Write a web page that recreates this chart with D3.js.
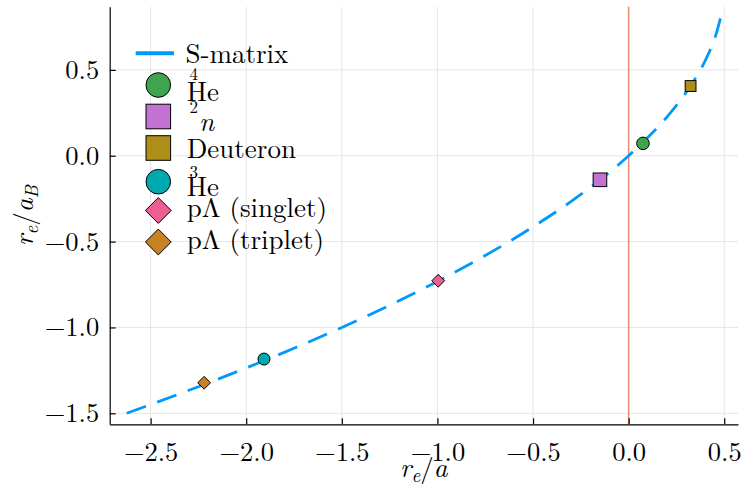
<!DOCTYPE html>
<html>
<head>
<meta charset="utf-8">
<script src="https://d3js.org/d3.v7.min.js"></script>
<style>
  body { margin: 0; background: #fff; }
  svg { display: block; }
</style>
</head>
<body>
<svg id="chart" width="744" height="489"></svg>
<script>
// S-matrix curve
var curveX = [-2.625, -2.5, -2.25, -2.0, -1.75, -1.5, -1.25, -1.0, -0.75, -0.5, -0.25, 0, 0.1, 0.2, 0.3, 0.35, 0.4, 0.44, 0.46, 0.48];
var curveY = [-1.5, -1.449, -1.345, -1.236, -1.121, -1.0, -0.871, -0.732, -0.581, -0.414, -0.225, 0, 0.106, 0.225, 0.368, 0.452, 0.553, 0.654, 0.717, 0.8];

// measured systems
var names   = ["4He", "2n", "Deuteron", "3He", "pL singlet", "pL triplet"];
var pointsX = [0.075, -0.150, 0.324, -1.907, -0.996, -2.220];
var pointsY = [0.072, -0.140, 0.406, -1.184, -0.728, -1.322];
var shapes  = ["circle", "square", "square", "circle", "diamond", "diamond"];
var colors  = ["#3EA44E", "#C371D2", "#AC8E18", "#00A9AD", "#ED5E93", "#C68225"];
var sizes   = [6.3, 6.8, 5.4, 6.0, 6.4, 6.4];

var xTicks = [-2.5, -2.0, -1.5, -1.0, -0.5, 0.0, 0.5];
var yTicks = [-1.5, -1.0, -0.5, 0.0, 0.5];

var FONT = "Latin Modern Roman";
var svg = d3.select("#chart");

var x = d3.scaleLinear().domain([-2.714, 0.572]).range([109.7, 738]);
var y = d3.scaleLinear().domain([-1.564, 0.868]).range([424.3, 6.7]);
var fmt = d3.format(".1f");

// grid
svg.append("g").selectAll("line").data(xTicks).join("line")
  .attr("x1", d => x(d)).attr("x2", d => x(d))
  .attr("y1", y.range()[1]).attr("y2", y.range()[0])
  .attr("stroke", "#e6e6e6").attr("stroke-width", 1);
svg.append("g").selectAll("line").data(yTicks).join("line")
  .attr("y1", d => y(d)).attr("y2", d => y(d))
  .attr("x1", x.range()[0]).attr("x2", x.range()[1])
  .attr("stroke", "#e6e6e6").attr("stroke-width", 1);

// vertical line at zero
svg.append("line")
  .attr("x1", x(0)).attr("x2", x(0))
  .attr("y1", y.range()[1]).attr("y2", y.range()[0])
  .attr("stroke", "#E36F47").attr("stroke-width", 1.5).attr("opacity", 0.75);

// axes
var xAxis = svg.append("g")
  .attr("transform", `translate(0,${y.range()[0]})`)
  .call(d3.axisBottom(x).tickValues(xTicks).tickFormat(fmt)
        .tickSizeInner(-6).tickSizeOuter(0).tickPadding(18));
var yAxis = svg.append("g")
  .attr("transform", `translate(${x.range()[0]},0)`)
  .call(d3.axisLeft(y).tickValues(yTicks).tickFormat(fmt)
        .tickSizeInner(-6).tickSizeOuter(0).tickPadding(10.5));
[xAxis, yAxis].forEach(function (g) {
  g.attr("font-family", FONT).attr("font-size", 26.5);
  g.selectAll("text").attr("font-family", FONT);
  g.select(".domain").attr("stroke", "#000").attr("stroke-width", 1.2);
  g.selectAll(".tick line").attr("stroke", "#000").attr("stroke-width", 1.2);
});
yAxis.selectAll(".tick text").attr("dy", "0.32em");

// curve
var line = d3.line()
  .x((d, i) => x(curveX[i]))
  .y((d, i) => y(curveY[i]))
  .curve(d3.curveMonotoneX);
svg.append("path")
  .datum(curveX)
  .attr("d", line)
  .attr("fill", "none")
  .attr("stroke", "#009AFA")
  .attr("stroke-width", 2.8)
  .attr("stroke-dasharray", "20.5,12");

function marker(g, shape, cx, cy, r, color) {
  var m;
  if (shape === "circle") {
    m = g.append("circle").attr("cx", cx).attr("cy", cy).attr("r", r);
  } else if (shape === "square") {
    m = g.append("rect").attr("x", cx - r).attr("y", cy - r).attr("width", 2 * r).attr("height", 2 * r);
  } else {
    m = g.append("path").attr("d", `M${cx},${cy - r}L${cx + r},${cy}L${cx},${cy + r}L${cx - r},${cy}Z`);
  }
  m.attr("fill", color).attr("stroke", "#000").attr("stroke-width", 1);
}

var pts = svg.append("g");
names.forEach(function (n, i) {
  marker(pts, shapes[i], x(pointsX[i]), y(pointsY[i]), sizes[i], colors[i]);
});

// legend
var leg = svg.append("g");
function ltext(str, tx, ty, size, italic) {
  return leg.append("text").attr("x", tx).attr("y", ty)
    .attr("font-family", FONT).attr("font-size", size || 27)
    .attr("font-style", italic ? "italic" : null).text(str);
}
leg.append("line").attr("x1", 135.7).attr("x2", 174).attr("y1", 53.3).attr("y2", 53.3)
  .attr("stroke", "#009AFA").attr("stroke-width", 4);
ltext("S-matrix", 185.5, 63.3);

var legY = [85, 116.5, 148, 181.7, 210.5, 242];
var legR = [12.3, 12.3, 12.3, 12.3, 12.9, 12.9];
names.forEach(function (n, i) {
  marker(leg, shapes[i], 158.3, legY[i], legR[i], colors[i]);
});

ltext("4", 189.5, 79.5, 17);
ltext("He", 186.7, 100.7);
ltext("2", 189.5, 112.5, 17);
ltext("n", 199, 130.7, 27, true);
ltext("Deuteron", 186.7, 158.3);
ltext("3", 189.5, 177.5, 17);
ltext("He", 186.7, 195.7);
ltext("p\u039B (singlet)", 186.7, 216.7);
ltext("p\u039B (triplet)", 186.7, 248.5);

// axis labels
var xl = svg.append("text").attr("text-anchor", "middle")
  .attr("x", (x.range()[0] + x.range()[1]) / 2).attr("y", 477)
  .attr("font-family", FONT).attr("font-size", 27);
xl.append("tspan").attr("font-style", "italic").text("r");
xl.append("tspan").attr("font-style", "italic").attr("font-size", 19).attr("dy", 5).text("e");
xl.append("tspan").attr("dy", -5).text("/");
xl.append("tspan").attr("font-style", "italic").text("a");

var yl = svg.append("text").attr("text-anchor", "middle")
  .attr("transform", `translate(33,${(y.range()[0] + y.range()[1]) / 2}) rotate(-90)`)
  .attr("font-family", FONT).attr("font-size", 27);
yl.append("tspan").attr("font-style", "italic").text("r");
yl.append("tspan").attr("font-style", "italic").attr("font-size", 19).attr("dy", 5).text("e");
yl.append("tspan").attr("dy", -5).text("/");
yl.append("tspan").attr("font-style", "italic").text("a");
yl.append("tspan").attr("font-style", "italic").attr("font-size", 19).attr("dy", 5).text("B");
</script>
</body>
</html>
